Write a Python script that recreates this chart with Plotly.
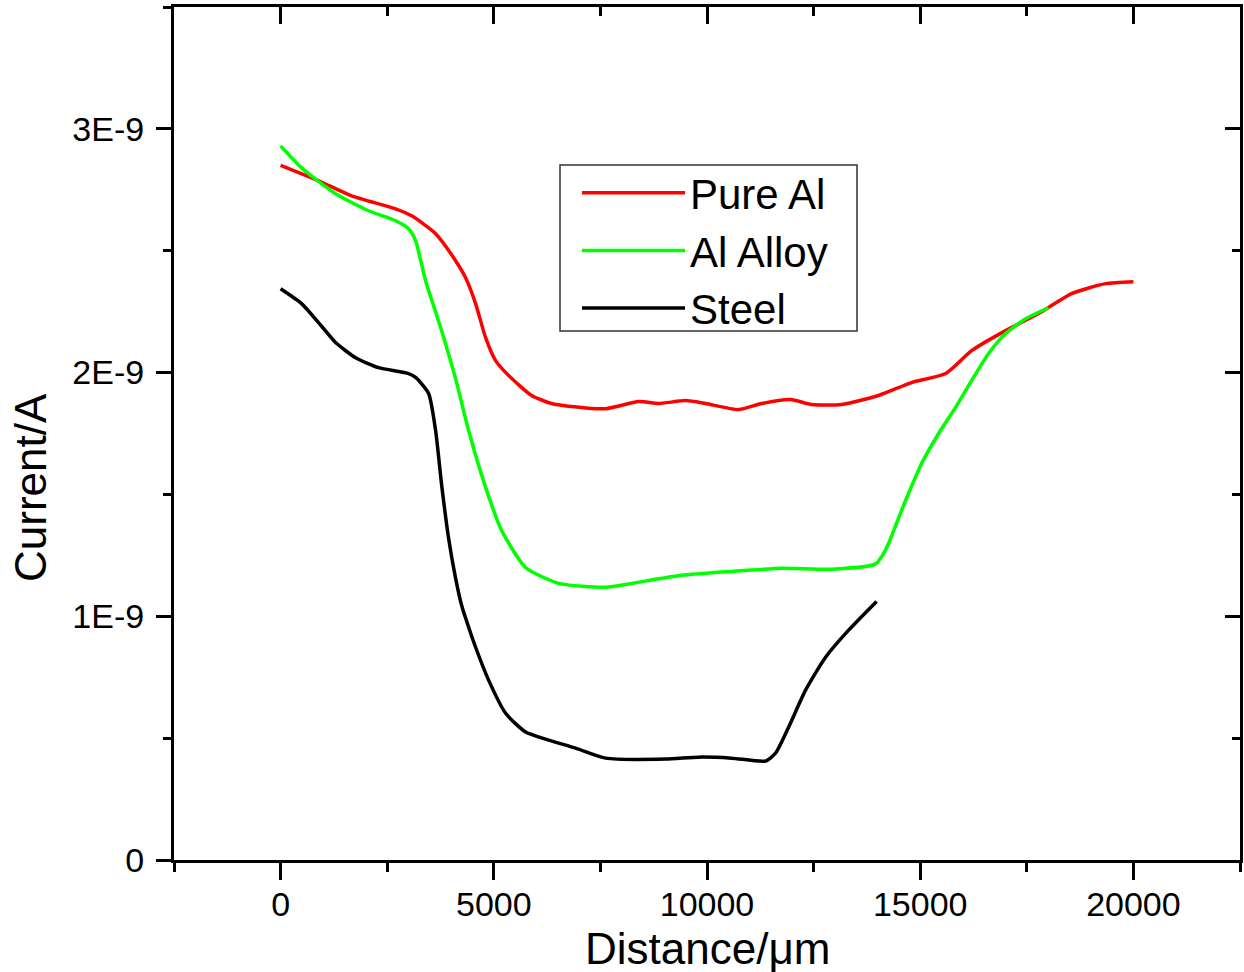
import numpy as np
import plotly.graph_objects as go

# Pure Al
pure_x = [0, 891, 1665, 2697, 3072, 3635, 4104, 4339, 4573, 4808, 5042, 5347, 5886, 6356,
          6754, 7622, 8396, 8865, 9498, 9967, 10741, 11281, 11961, 12453, 13157, 14024,
          14798, 15596, 16206, 17003, 17777, 18551, 19348, 20000]
pure_y = [2.85, 2.787, 2.725, 2.672, 2.643, 2.57, 2.459, 2.389, 2.283, 2.143, 2.049, 1.988,
          1.906, 1.873, 1.862, 1.852, 1.881, 1.873, 1.885, 1.873, 1.848, 1.873, 1.889, 1.869,
          1.869, 1.906, 1.959, 1.996, 2.09, 2.172, 2.242, 2.324, 2.365, 2.373]

# Al Alloy
alloy_x = [0, 492, 1290, 2064, 2697, 3002, 3166, 3400, 3776, 4104, 4409, 4808, 5183, 5746,
           6520, 7622, 8232, 9404, 10577, 11750, 12922, 13954, 14141, 14259, 14657, 15033,
           15432, 15830, 16206, 16604, 17003, 17472, 18011]
alloy_y = [2.93, 2.84, 2.734, 2.664, 2.623, 2.59, 2.541, 2.377, 2.172, 1.975, 1.762, 1.529,
           1.352, 1.2, 1.135, 1.119, 1.135, 1.168, 1.184, 1.197, 1.193, 1.215, 1.258, 1.299,
           1.475, 1.627, 1.75, 1.857, 1.967, 2.078, 2.16, 2.221, 2.266]

# Steel
steel_x = [0, 492, 891, 1290, 1759, 2298, 3002, 3166, 3471, 3635, 3776, 3940, 4100, 4253,
           4420, 4573, 4878, 5277, 5746, 6285, 6918, 7622, 9029, 9803, 10577, 11374, 11609,
           11914, 12312, 12781, 13321, 13977]
steel_y = [2.344, 2.283, 2.205, 2.123, 2.061, 2.02, 1.996, 1.98, 1.914, 1.762, 1.54, 1.32,
           1.16, 1.04, 0.95, 0.873, 0.738, 0.602, 0.525, 0.492, 0.459, 0.418, 0.414, 0.422,
           0.418, 0.406, 0.439, 0.545, 0.697, 0.832, 0.943, 1.061]

y_ticks = [0, 1e-9, 2e-9, 3e-9]
y_tick_labels = ["0", "1E-9", "2E-9", "3E-9"]
x_ticks = [0, 5000, 10000, 15000, 20000]
x_tick_labels = ["0", "5000", "10000", "15000", "20000"]

SCALE = 1e-9
FONT = "Liberation Sans, Arial, sans-serif"

# plot-area pixel geometry (for paper-coordinate placement)
L, R, T, B = 174, 1240, 7, 860
PW, PH = R - L, B - T


def px(x):
    return (x - L) / PW


def py(y):
    return (B - y) / PH


fig = go.Figure()
fig.add_trace(go.Scatter(x=pure_x, y=np.array(pure_y) * SCALE, mode="lines", name="Pure Al",
                         line=dict(color="#FF0000", width=3.5, shape="spline", smoothing=0.6)))
fig.add_trace(go.Scatter(x=alloy_x, y=np.array(alloy_y) * SCALE, mode="lines", name="Al Alloy",
                         line=dict(color="#00FF00", width=3.5, shape="spline", smoothing=0.6)))
fig.add_trace(go.Scatter(x=steel_x, y=np.array(steel_y) * SCALE, mode="lines", name="Steel",
                         line=dict(color="#000000", width=3.5, shape="spline", smoothing=0.6)))
# helper trace for the mirrored top/right axes
fig.add_trace(go.Scatter(x=[None], y=[None], xaxis="x2", yaxis="y2", showlegend=False,
                         hoverinfo="skip"))

xr = [-2500, 22500]
yr = [0, 3.5e-9]

fig.update_layout(
    width=1244, height=972,
    margin=dict(l=L, r=1244 - R, t=T, b=972 - B),
    paper_bgcolor="white", plot_bgcolor="white",
    font=dict(family=FONT, color="black"),
    showlegend=True,
    legend=dict(x=px(577), y=py(159), xanchor="left", yanchor="top",
                borderwidth=0, bgcolor="rgba(0,0,0,0)",
                font=dict(size=42, family=FONT), itemwidth=103,
                tracegroupgap=0),
    shapes=[dict(type="rect", xref="paper", yref="paper",
                 x0=px(560), x1=px(857), y0=py(331), y1=py(165),
                 line=dict(color="#333333", width=1.5), fillcolor="white",
                 layer="below")],
    annotations=[
        dict(text="Distance/μm", xref="paper", yref="paper", x=0.5, y=py(948),
             xanchor="center", yanchor="middle", showarrow=False,
             font=dict(size=44, family=FONT)),
        dict(text="Current/A", xref="paper", yref="paper", x=px(30), y=py(488),
             xanchor="center", yanchor="middle", textangle=-90, showarrow=False,
             font=dict(size=44, family=FONT)),
    ],
    xaxis=dict(range=xr, tickvals=x_ticks, ticktext=x_tick_labels, ticks="outside",
               ticklen=17, tickwidth=2.5,
               tickcolor="black", showline=True, linecolor="black", linewidth=3,
               showgrid=False, zeroline=False, tickfont=dict(size=34),
               ticklabelstandoff=-5,
               minor=dict(dtick=2500, tick0=0, ticks="outside", ticklen=9, tickwidth=2.5,
                          tickcolor="black", showgrid=False)),
    yaxis=dict(range=yr, tickvals=y_ticks, ticktext=y_tick_labels, ticks="outside",
               ticklen=15, tickwidth=2.5, tickcolor="black", showline=True,
               linecolor="black", linewidth=3, showgrid=False, zeroline=False,
               tickfont=dict(size=34), ticklabelstandoff=5,
               minor=dict(dtick=0.5e-9, tick0=0, ticks="outside", ticklen=8, tickwidth=2.5,
                          tickcolor="black", showgrid=False)),
    xaxis2=dict(range=xr, overlaying="x", side="top", anchor="y2", tickvals=x_ticks,
                ticks="inside", ticklen=17, tickwidth=2.5, tickcolor="black",
                showticklabels=False, showline=True, linecolor="black", linewidth=3,
                showgrid=False, zeroline=False,
                minor=dict(dtick=2500, tick0=0, ticks="inside", ticklen=9, tickwidth=2.5,
                           tickcolor="black", showgrid=False)),
    yaxis2=dict(range=yr, overlaying="y", side="right", anchor="x2", tickvals=y_ticks,
                ticks="inside", ticklen=15, tickwidth=2.5, tickcolor="black",
                showticklabels=False, showline=True, linecolor="black", linewidth=3,
                showgrid=False, zeroline=False,
                minor=dict(dtick=0.5e-9, tick0=0, ticks="inside", ticklen=8, tickwidth=2.5,
                           tickcolor="black", showgrid=False)),
)

fig.write_html("out.html")
